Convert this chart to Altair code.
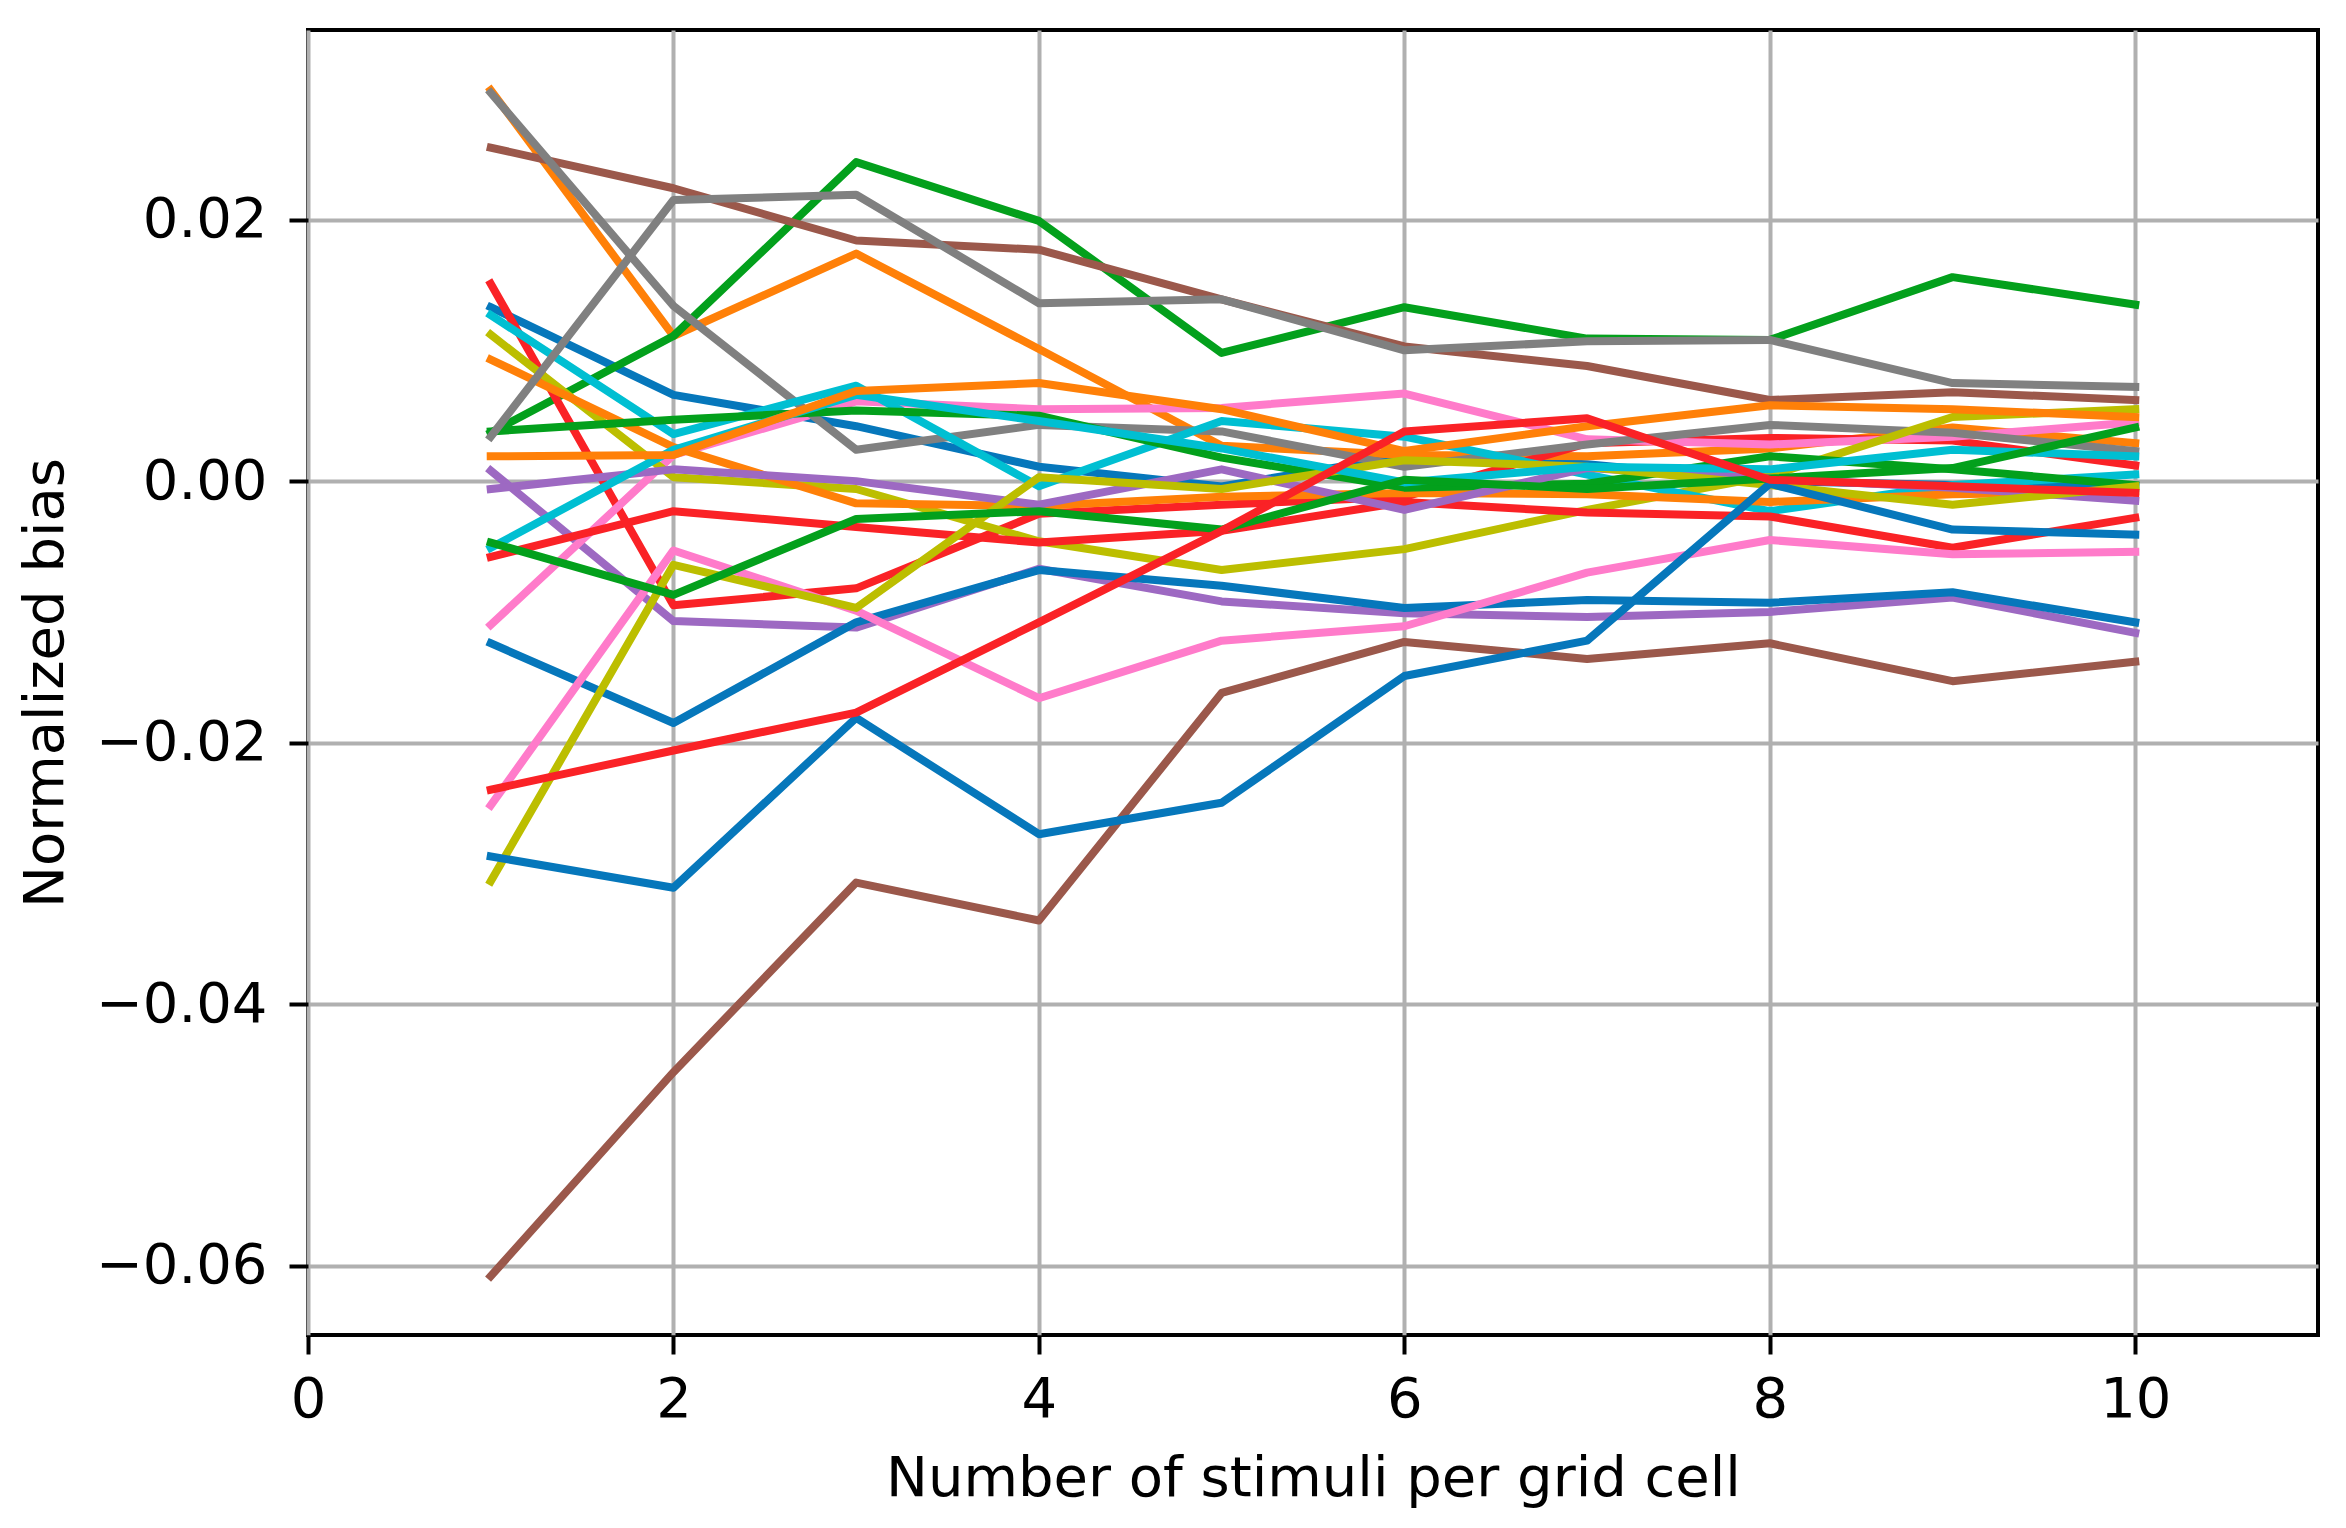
import altair as alt
import pandas as pd

# x positions: number of stimuli per grid cell
x_vals = [1, 2, 3, 4, 5, 6, 7, 8, 9, 10]

# series values (normalized bias)
blue_a = [0.0133, 0.0066, 0.0042, 0.0011, -0.0004, 0.0019, 0.0013, 0.0000, -0.0003, -0.0005]
orange_a = [0.0299, 0.0111, 0.0174, 0.0101, 0.0027, 0.0020, 0.0019, 0.0025, 0.0041, 0.0029]
green_a = [0.0037, 0.0111, 0.0244, 0.0199, 0.0098, 0.0133, 0.0109, 0.0108, 0.0156, 0.0135]
red_a = [0.0151, -0.0095, -0.0082, -0.0025, -0.0018, -0.0012, 0.0029, 0.0033, 0.0031, 0.0012]
purple_a = [0.0008, -0.0107, -0.0112, -0.0067, -0.0092, -0.0101, -0.0104, -0.0100, -0.0089, -0.0116]
brown_a = [0.0255, 0.0224, 0.0184, 0.0177, 0.0139, 0.0103, 0.0088, 0.0062, 0.0068, 0.0062]
pink_a = [-0.0110, 0.0020, 0.0061, 0.0055, 0.0056, 0.0067, 0.0032, 0.0028, 0.0034, 0.0045]
gray_a = [0.0297, 0.0134, 0.0024, 0.0043, 0.0038, 0.0011, 0.0028, 0.0043, 0.0037, 0.0023]
olive_a = [0.0112, 0.0003, -0.0006, -0.0046, -0.0068, -0.0052, -0.0022, 0.0004, 0.0049, 0.0055]
cyan_a = [0.0127, 0.0036, 0.0073, -0.0004, 0.0046, 0.0034, 0.0005, -0.0023, -0.0003, 0.0005]
blue_b = [-0.0124, -0.0185, -0.0108, -0.0068, -0.0080, -0.0097, -0.0091, -0.0093, -0.0085, -0.0108]
orange_b = [0.0093, 0.0026, -0.0017, -0.0019, -0.0012, -0.0009, -0.0010, -0.0016, -0.0010, -0.0008]
green_b = [0.0038, 0.0047, 0.0054, 0.0050, 0.0018, -0.0005, -0.0002, 0.0019, 0.0009, -0.0003]
red_b = [-0.0058, -0.0023, -0.0035, -0.0047, -0.0038, -0.0016, -0.0024, -0.0027, -0.0051, -0.0028]
purple_b = [-0.0006, 0.0009, 0.0000, -0.0018, 0.0009, -0.0022, 0.0010, 0.0002, -0.0005, -0.0015]
brown_b = [-0.0608, -0.0452, -0.0307, -0.0336, -0.0162, -0.0123, -0.0136, -0.0124, -0.0153, -0.0138]
pink_b = [-0.0248, -0.0053, -0.0099, -0.0166, -0.0122, -0.0111, -0.0070, -0.0045, -0.0056, -0.0054]
gray_b = [0.0034, 0.0215, 0.0219, 0.0136, 0.0139, 0.0100, 0.0107, 0.0108, 0.0075, 0.0072]
olive_b = [-0.0306, -0.0064, -0.0097, 0.0003, -0.0006, 0.0016, 0.0011, -0.0003, -0.0018, -0.0004]
cyan_b = [-0.0051, 0.0024, 0.0066, 0.0046, 0.0025, -0.0001, 0.0011, 0.0009, 0.0024, 0.0019]
blue_c = [-0.0287, -0.0311, -0.0181, -0.0270, -0.0246, -0.0149, -0.0122, -0.0002, -0.0037, -0.0041]
orange_c = [0.0019, 0.0020, 0.0069, 0.0075, 0.0055, 0.0023, 0.0042, 0.0058, 0.0055, 0.0049]
green_c = [-0.0047, -0.0087, -0.0029, -0.0023, -0.0037, 0.0001, -0.0006, 0.0002, 0.0010, 0.0041]
red_c = [-0.0236, -0.0206, -0.0177, -0.0108, -0.0038, 0.0038, 0.0048, 0.0001, -0.0004, -0.0009]

series_names = [
    "blue_a", "orange_a", "green_a", "red_a", "purple_a", "brown_a", "pink_a", "gray_a", "olive_a", "cyan_a",
    "blue_b", "orange_b", "green_b", "red_b", "purple_b", "brown_b", "pink_b", "gray_b", "olive_b", "cyan_b",
    "blue_c", "orange_c", "green_c", "red_c",
]
series_values = [
    blue_a, orange_a, green_a, red_a, purple_a, brown_a, pink_a, gray_a, olive_a, cyan_a,
    blue_b, orange_b, green_b, red_b, purple_b, brown_b, pink_b, gray_b, olive_b, cyan_b,
    blue_c, orange_c, green_c, red_c,
]
palette = {
    "blue": "#0677bb", "orange": "#ff8008", "green": "#03a01c", "red": "#fa2226",
    "purple": "#9d69c2", "brown": "#9b584b", "pink": "#ff7bca", "gray": "#808080",
    "olive": "#bcbe00", "cyan": "#00bfd2",
}
series_colors = [palette[n.split("_")[0]] for n in series_names]

y_ticks = [-0.06, -0.04, -0.02, 0.0, 0.02]
x_ticks = [0, 2, 4, 6, 8, 10]

rows = []
for order, (name, vals) in enumerate(zip(series_names, series_values)):
    for xv, yv in zip(x_vals, vals):
        rows.append({"series": name, "order": order, "x": xv, "value": yv})
df = pd.DataFrame(rows)

FONT = "DejaVu Sans"

chart = (
    alt.Chart(df)
    .mark_line(strokeWidth=8, strokeCap="square", strokeJoin="round")
    .encode(
        x=alt.X(
            "x:Q",
            scale=alt.Scale(domain=[0, 11], nice=False, zero=False),
            axis=alt.Axis(values=x_ticks, format="d", title="Number of stimuli per grid cell",
                          labelPadding=18, titlePadding=24, labelFlush=False),
        ),
        y=alt.Y(
            "value:Q",
            scale=alt.Scale(domain=[-0.0653, 0.0345], nice=False, zero=False),
            axis=alt.Axis(values=y_ticks, format=".2f", title="Normalized bias",
                          labelPadding=22, titlePadding=34, labelFlush=False),
        ),
        color=alt.Color(
            "series:N",
            scale=alt.Scale(domain=series_names, range=series_colors),
            legend=None,
        ),
        order=alt.Order("x:Q"),
    )
    .properties(
        width=2010,
        height=1305,
        autosize=alt.AutoSizeParams(type="none"),
        padding={"left": 300, "top": 22, "right": 20, "bottom": 180},
        background="white",
    )
    .configure_view(stroke="black", strokeWidth=4)
    .configure_axis(
        labelFont=FONT,
        titleFont=FONT,
        labelFontSize=56,
        titleFontSize=56,
        titleFontWeight="normal",
        labelColor="black",
        titleColor="black",
        tickColor="black",
        tickSize=19,
        tickWidth=4,
        domain=False,
        grid=True,
        gridColor="#b0b0b0",
        gridWidth=4,
        gridOpacity=1,
    )
)

chart.save("out.html", embed_options={"renderer": "svg", "actions": False})
